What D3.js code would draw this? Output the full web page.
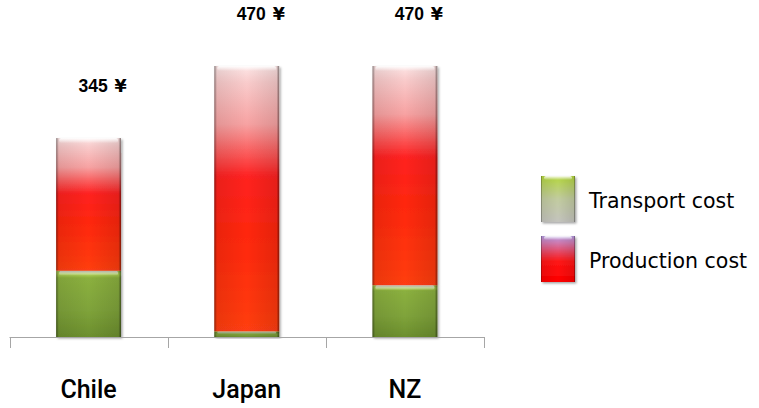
<!DOCTYPE html>
<html>
<head>
<meta charset="utf-8">
<script src="https://cdn.jsdelivr.net/npm/d3@7"></script>
<style>
  html, body { margin: 0; padding: 0; background: #ffffff; }
  svg { display: block; }
</style>
</head>
<body>
<div id="chart"></div>
<script>
// ---- data ----
const categories = ["Chile", "Japan", "NZ"];
const transportCost = [115, 10, 90];
const productionCost = [230, 460, 380];
const totalValues = ["345", "470", "470"];
const currency = "¥";
const seriesNames = ["Transport cost", "Production cost"];

// ---- layout ----
const W = 759, H = 408;
const svg = d3.select("#chart").append("svg").attr("width", W).attr("height", H);
const defs = svg.append("defs");

function vGrad(id, stops) {
  const g = defs.append("linearGradient").attr("id", id)
    .attr("x1", 0).attr("y1", 0).attr("x2", 0).attr("y2", 1);
  stops.forEach(s => g.append("stop").attr("offset", s[0]).attr("stop-color", s[1]).attr("stop-opacity", s[2] == null ? 1 : s[2]));
}
function hGrad(id, stops) {
  const g = defs.append("linearGradient").attr("id", id)
    .attr("x1", 0).attr("y1", 0).attr("x2", 1).attr("y2", 0);
  stops.forEach(s => g.append("stop").attr("offset", s[0]).attr("stop-color", s[1]).attr("stop-opacity", s[2] == null ? 1 : s[2]));
}
vGrad("gRed", [[0, "#fde6e6"], [0.06, "#f9cccc"], [0.22, "#f7a2a2"], [0.42, "#ff2020"], [0.7, "#ff2a08"], [1, "#ff3e12"]]);
vGrad("gGreen", [[0, "#cdee70"], [0.05, "#aed252"], [0.11, "#8bb03f"], [0.6, "#7fa33a"], [1, "#6c8f2e"]]);
vGrad("gLegGreen", [[0, "#b4d63e"], [0.5, "#c2cca0"], [1, "#c4c4be"]]);
vGrad("gLegRed", [[0, "#b49ae0"], [0.15, "#d07ab0"], [0.55, "#ff1616"], [1, "#ff0000"]]);
hGrad("gEdge", [[0, "#000", 0.45], [0.04, "#000", 0.08], [0.5, "#000", 0], [0.96, "#000", 0.1], [1, "#000", 0.5]]);
vGrad("gTopHi", [[0, "#fff", 0.95], [1, "#fff", 0]]);

const filt = defs.append("filter").attr("id", "shadow").attr("x", "-20%").attr("y", "-10%").attr("width", "140%").attr("height", "130%");
filt.append("feDropShadow").attr("dx", 1.5).attr("dy", 1.5).attr("stdDeviation", 1.2).attr("flood-color", "#000").attr("flood-opacity", 0.35);

// scales
const axisLeft = 9.5, axisRight = 484, baseY = 337;
const x = d3.scaleBand().domain(categories).range([axisLeft, axisRight]).paddingInner(0.59).paddingOuter(0.295);
const y = d3.scaleLinear().domain([0, 470]).range([baseY, 66]);
const step = x.step();

const rows = categories.map((c, i) => ({ cat: c, transport: transportCost[i], production: productionCost[i], label: totalValues[i] }));
const stack = d3.stack().keys(["transport", "production"])(rows);
const fills = { transport: "url(#gGreen)", production: "url(#gRed)" };

const barsG = svg.append("g");
stack.forEach(layer => {
  const g = barsG.append("g");
  layer.forEach(d => {
    const bx = x(d.data.cat), bw = x.bandwidth();
    const top = y(d[1]), h = y(d[0]) - y(d[1]);
    if (h <= 0) return;
    g.append("rect").attr("x", bx).attr("y", top).attr("width", bw).attr("height", h)
      .attr("fill", fills[layer.key]).attr("filter", "url(#shadow)");
    g.append("rect").attr("x", bx).attr("y", top).attr("width", bw).attr("height", h)
      .attr("fill", "url(#gEdge)");
    const hh = Math.min(5, h * 0.5);
    g.append("rect").attr("x", bx + 3).attr("y", top).attr("width", bw - 6).attr("height", hh)
      .attr("rx", 2).attr("fill", "url(#gTopHi)");
  });
});

// axis
const axisG = svg.append("g").attr("stroke", "#a6a6a6").attr("stroke-width", 1);
axisG.append("line").attr("x1", axisLeft).attr("x2", axisRight).attr("y1", baseY + 0.5).attr("y2", baseY + 0.5);
d3.range(categories.length + 1).forEach(i => {
  const tx = Math.round(axisLeft + i * step) + 0.5;
  axisG.append("line").attr("x1", tx).attr("x2", tx).attr("y1", baseY).attr("y2", baseY + 11);
});

// category labels
svg.append("g").selectAll("text").data(categories).join("text")
  .attr("x", d => x(d) + x.bandwidth() / 2)
  .attr("y", 398)
  .attr("text-anchor", "middle")
  .attr("font-family", "Roboto, sans-serif")
  .attr("font-weight", 500)
  .attr("font-size", 25)
  .attr("fill", "#000")
  .text(d => d);

// total labels
const tl = svg.append("g").selectAll("text").data(rows).join("text")
  .attr("x", d => x(d.cat) + x.bandwidth() / 2 + 14)
  .attr("y", d => y(d.transport + d.production) - 46)
  .attr("text-anchor", "middle")
  .attr("font-family", "'Liberation Sans', Arial, sans-serif")
  .attr("font-weight", "bold")
  .attr("font-size", 17.5)
  .attr("fill", "#000");
tl.append("tspan").text(d => d.label + " ");
tl.append("tspan").attr("dx", 2).attr("font-family", "'DejaVu Sans', sans-serif").text(currency);

// legend
const legFills = ["url(#gLegGreen)", "url(#gLegRed)"];
const leg = svg.append("g");
seriesNames.forEach((name, i) => {
  const ly = 176 + i * 60;
  leg.append("rect").attr("x", 541).attr("y", ly).attr("width", 34).attr("height", 46)
    .attr("fill", legFills[i]).attr("filter", "url(#shadow)");
  leg.append("rect").attr("x", 541).attr("y", ly).attr("width", 34).attr("height", 46)
    .attr("fill", "url(#gEdge)");
  leg.append("rect").attr("x", 544).attr("y", ly).attr("width", 28).attr("height", 4)
    .attr("rx", 2).attr("fill", "url(#gTopHi)");
  leg.append("text").attr("x", 589).attr("y", ly + 32)
    .attr("font-family", "'DejaVu Sans', sans-serif")
    .attr("font-size", 20.5)
    .attr("fill", "#000")
    .text(name);
});
</script>
</body>
</html>
